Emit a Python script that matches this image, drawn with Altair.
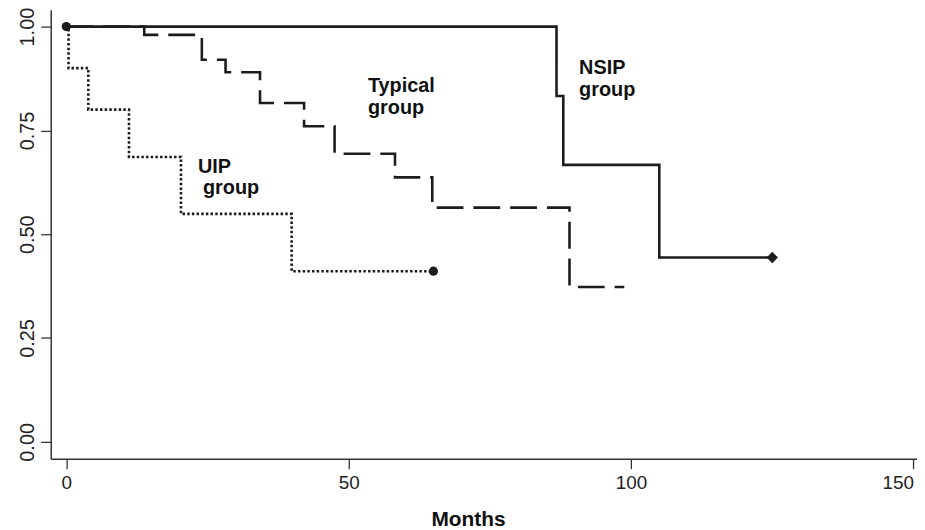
import altair as alt
import pandas as pd

# ---- data ----
groups = ["UIP", "Typical", "NSIP"]

uip_t = [0, 0.4, 3.9, 11.1, 20.3, 39.9, 65.0]
uip_s = [1.0, 0.900, 0.800, 0.686, 0.549, 0.411, 0.411]

typ_t = [0, 13.8, 24.0, 28.2, 34.3, 42.1, 47.5, 58.2, 64.8, 89.1, 98.8]
typ_s = [1.0, 0.980, 0.920, 0.890, 0.816, 0.760, 0.694, 0.637, 0.564, 0.373, 0.373]

nsip_t = [0, 86.8, 88.0, 105.0, 125.0]
nsip_s = [1.0, 0.833, 0.667, 0.444, 0.444]

circle_t = [0, 65.0]
circle_s = [1.0, 0.411]
diamond_t = [125.0]
diamond_s = [0.444]

label_text = ["Typical", "group", "NSIP", "group", "UIP", "group"]
label_x = [53.4, 53.4, 90.8, 90.8, 23.3, 24.2]
label_y = [0.842, 0.789, 0.885, 0.833, 0.648, 0.598]

x_ticks = [0, 50, 100, 150]
y_ticks = [0.0, 0.25, 0.5, 0.75, 1.0]

# ---- tables ----
rows = []
for g, ts, ss in zip(groups, [uip_t, typ_t, nsip_t], [uip_s, typ_s, nsip_s]):
    for i, (t, s) in enumerate(zip(ts, ss)):
        rows.append({"group": g, "t": t, "s": s, "order": i})
curves = pd.DataFrame(rows)
circles = pd.DataFrame({"t": circle_t, "s": circle_s})
diamonds = pd.DataFrame({"t": diamond_t, "s": diamond_s})
labels = pd.DataFrame({"text": label_text, "t": label_x, "s": label_y})

FONT = "Liberation Sans"
INK = "#1c1c1c"

x_scale = alt.Scale(domain=[-2.76, 150.63], nice=False, zero=False)
y_scale = alt.Scale(domain=[-0.0407, 1.0407], nice=False, zero=False)

x_axis = alt.Axis(
    values=x_ticks, format="d", title="Months", grid=False,
    tickSize=10, tickWidth=1.3, tickColor="#333", domainColor="#333", domainWidth=1.5,
    labelFont=FONT, labelFontSize=19, labelColor="#222", labelPadding=5,
    labelFlush=10,
    titleFont=FONT, titleFontSize=21, titleFontWeight="bold", titleColor="#111",
    titleX=420, titleY=67, titleBaseline="alphabetic", titleAnchor="start", titleAlign="center",
)
y_axis = alt.Axis(
    values=y_ticks, format=".2f", title=None, grid=False,
    tickSize=10, tickWidth=1.3, tickColor="#333", domainColor="#333", domainWidth=1.5,
    labelFont=FONT, labelFontSize=20, labelColor="#222", labelPadding=3,
    labelAngle=-90, labelAlign="center", labelBaseline="bottom",
)

X = alt.X("t:Q", scale=x_scale, axis=x_axis)
Y = alt.Y("s:Q", scale=y_scale, axis=y_axis)

lines = alt.Chart(curves).mark_line(
    interpolate="step-after", color=INK, strokeWidth=2.6, strokeCap="butt"
).encode(
    x=X, y=Y,
    order="order:Q",
    strokeDash=alt.StrokeDash(
        "group:N",
        scale=alt.Scale(domain=groups, range=[[2.5, 2.2], [27, 10], [1, 0]]),
        legend=None,
    ),
)

circ = alt.Chart(circles).mark_point(
    shape="circle", filled=True, size=85, color=INK, opacity=1
).encode(x=X, y=Y)

diam = alt.Chart(diamonds).mark_point(
    shape="diamond", filled=True, size=130, color=INK, opacity=1
).encode(x=X, y=Y)

txt = alt.Chart(labels).mark_text(
    align="left", baseline="alphabetic", font=FONT, fontSize=20,
    fontWeight="bold", color="#111"
).encode(x=X, y=Y, text="text:N")

chart = (
    alt.layer(lines, circ, diam, txt)
    .properties(
        width=872, height=452,
        autosize=alt.AutoSizeParams(type="none"),
        padding={"left": 43, "top": 0, "right": 0, "bottom": 70},
    )
    .configure(font=FONT)
    .configure_view(stroke=None)
    .configure_axis(labelFont=FONT, titleFont=FONT)
)

chart.save("out.html", embed_options={"renderer": "svg", "actions": False})
